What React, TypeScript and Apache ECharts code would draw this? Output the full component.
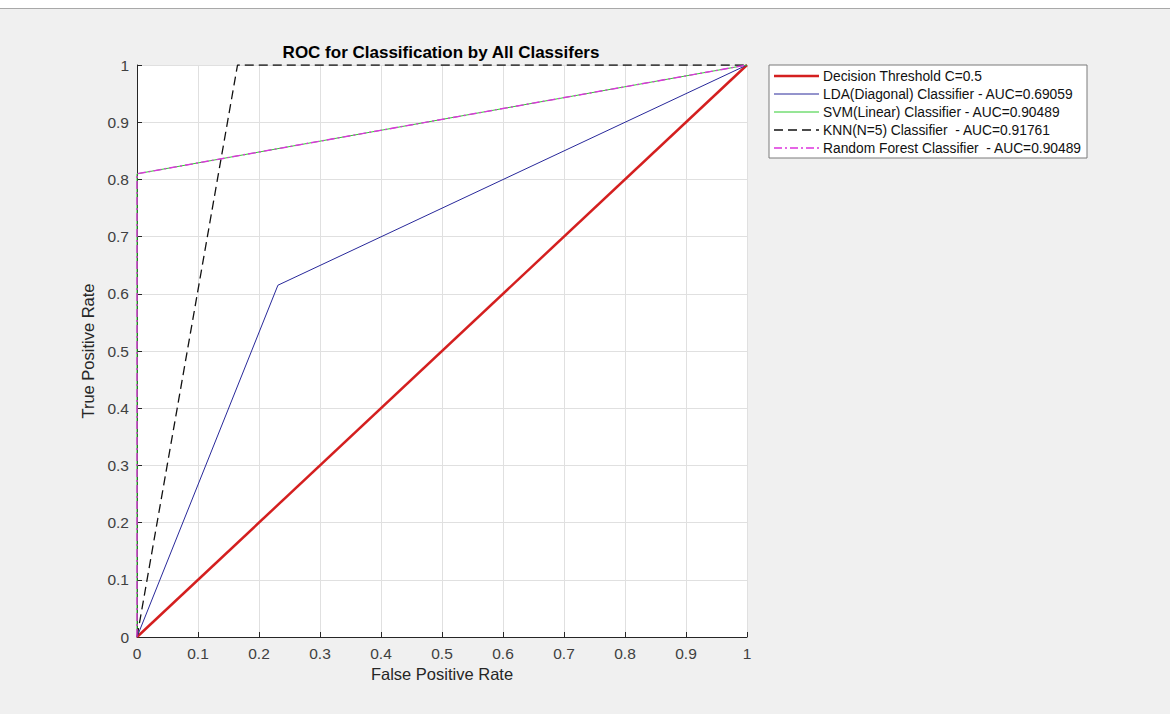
import React, { useEffect, useRef } from "react";
import * as echarts from "echarts";

const titleText = "ROC for Classification by All Classifers";
const xName = "False Positive Rate";
const yName = "True Positive Rate";

const seriesNames = [
  "Decision Threshold C=0.5",
  "LDA(Diagonal) Classifier - AUC=0.69059",
  "SVM(Linear) Classifier - AUC=0.90489",
  "KNN(N=5) Classifier  - AUC=0.91761",
  "Random Forest Classifier  - AUC=0.90489",
];

const thresholdFpr = [0, 1];
const thresholdTpr = [0, 1];
const ldaFpr = [0, 0.231, 1];
const ldaTpr = [0, 0.615, 1];
const svmFpr = [0, 0, 1];
const svmTpr = [0, 0.8098, 1];
const knnFpr = [0, 0.1648, 1];
const knnTpr = [0, 1, 1];
const rfFpr = [0, 0, 1];
const rfTpr = [0, 0.8098, 1];

const seriesX = [thresholdFpr, ldaFpr, svmFpr, knnFpr, rfFpr];
const seriesY = [thresholdTpr, ldaTpr, svmTpr, knnTpr, rfTpr];

const seriesStyles = [
  { color: "#d41f1f", width: 2.5, type: "solid" as any },
  { color: "#28289a", width: 1, type: "solid" as any },
  { color: "#2ecc2e", width: 1, type: "solid" as any },
  { color: "#111111", width: 1.3, type: [9, 5] as any },
  { color: "#dd33dd", width: 1.4, type: [8, 3, 2, 3] as any },
];

const FONT = "'Liberation Sans', Arial, Helvetica, sans-serif";

export default function App() {
  const ref = useRef<HTMLDivElement>(null);

  useEffect(() => {
    if (!ref.current) return;
    const chart = echarts.init(ref.current, undefined, { renderer: "svg" });

    const series = seriesNames.map((name, i) => ({
      name,
      type: "line",
      symbol: "none",
      data: seriesX[i].map((x, j) => [x, seriesY[i][j]]),
      lineStyle: seriesStyles[i],
      itemStyle: { color: seriesStyles[i].color },
      z: 2 + i,
    }));

    const legendX = 769;
    const legendY = 65;
    const rowH = 18;
    const legendChildren: any[] = [
      {
        type: "rect",
        shape: { x: legendX, y: legendY, width: 318, height: 93 },
        style: { fill: "#ffffff", stroke: "#7a7a7a", lineWidth: 1 },
      },
    ];
    seriesNames.forEach((name, i) => {
      const yy = legendY + 11 + i * rowH;
      const st = seriesStyles[i];
      legendChildren.push({
        type: "line",
        shape: { x1: legendX + 5, y1: yy, x2: legendX + 50, y2: yy },
        style: {
          stroke: st.color,
          lineWidth: st.width,
          lineDash: Array.isArray(st.type) ? st.type : null,
        },
      });
      legendChildren.push({
        type: "text",
        x: legendX + 54,
        y: yy,
        style: {
          text: name,
          fill: "#111",
          font: `13.8px ${FONT}`,
          verticalAlign: "middle",
          align: "left",
        },
      });
    });

    const option: any = {
      animation: false,
      backgroundColor: "#f0f0f0",
      textStyle: { fontFamily: FONT },
      grid: { left: 137, top: 65, right: 423, bottom: 77, show: true, backgroundColor: "#ffffff", borderWidth: 0 },
      xAxis: {
        type: "value",
        min: 0,
        max: 1,
        interval: 0.1,
        name: xName,
        nameLocation: "middle",
        nameGap: 28,
        nameTextStyle: { fontSize: 16.5, color: "#262626", fontFamily: FONT },
        axisLine: { show: true, lineStyle: { color: "#262626", width: 1 } },
        axisTick: { show: true, inside: true, length: 5, lineStyle: { color: "#262626" } },
        axisLabel: { fontSize: 15.5, color: "#404040", margin: 8, fontFamily: FONT },
        splitLine: { show: true, lineStyle: { color: "#e0e0e0", width: 1 } },
      },
      yAxis: {
        type: "value",
        min: 0,
        max: 1,
        interval: 0.1,
        name: yName,
        nameLocation: "middle",
        nameGap: 33,
        nameTextStyle: { fontSize: 16.5, color: "#262626", fontFamily: FONT },
        axisLine: { show: true, lineStyle: { color: "#262626", width: 1 } },
        axisTick: { show: true, inside: true, length: 5, lineStyle: { color: "#262626" } },
        axisLabel: { fontSize: 15.5, color: "#404040", margin: 8, fontFamily: FONT },
        splitLine: { show: true, lineStyle: { color: "#e0e0e0", width: 1 } },
      },
      series,
      graphic: [
        {
          type: "rect",
          shape: { x: 0, y: 0, width: 1170, height: 8 },
          style: { fill: "#ffffff" },
          silent: true,
        },
        {
          type: "line",
          shape: { x1: 0, y1: 8.5, x2: 1170, y2: 8.5 },
          style: { stroke: "#a8a8a8", lineWidth: 1 },
          silent: true,
        },
        {
          type: "text",
          x: 441,
          y: 52,
          style: {
            text: titleText,
            fill: "#000",
            font: `bold 17px ${FONT}`,
            align: "center",
            verticalAlign: "middle",
          },
        },
        { type: "group", children: legendChildren },
      ],
    };

    chart.setOption(option);
    return () => chart.dispose();
  }, []);

  return (
    <div
      ref={ref}
      style={{ position: "fixed", left: 0, top: 0, width: 1170, height: 714 }}
    />
  );
}
